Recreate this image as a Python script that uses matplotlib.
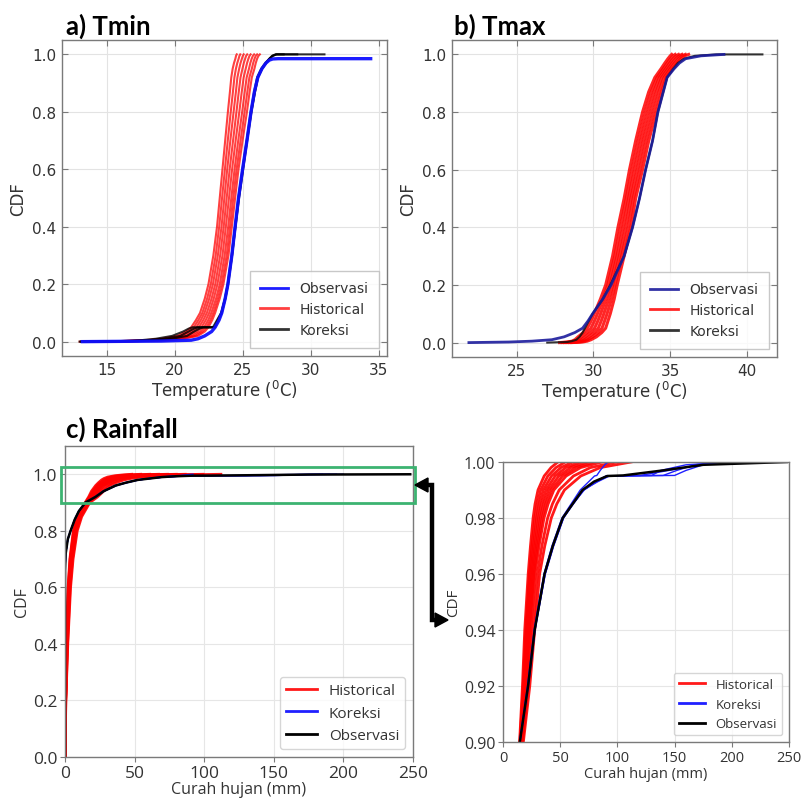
import numpy as np
import matplotlib
matplotlib.use("Agg")
import matplotlib.pyplot as plt
import matplotlib.ticker as mticker
from matplotlib.patches import Rectangle, Polygon
from matplotlib.lines import Line2D

# ---------------- data: a) Tmin ----------------
lv_a = [0, .002, .005, .01, .02, .035, .05, .075, .1, .15, .2, .3, .4, .5, .6, .7, .8, .87,
        .92, .95, .97, .985, .995, 1.0]
hist_a = [
    [13.0, 16.0, 17.8, 19.0, 20.2, 20.8, 21.2, 21.55, 21.85, 22.2, 22.47, 22.83, 23.1, 23.3, 23.5, 23.7, 23.9, 24.05, 24.15, 24.25, 24.35, 24.45, 24.5, 24.55],
    [13.09, 16.23, 18.07, 19.24, 20.43, 21.01, 21.39, 21.73, 22.02, 22.37, 22.64, 23.0, 23.26, 23.47, 23.68, 23.89, 24.11, 24.27, 24.38, 24.49, 24.59, 24.69, 24.75, 24.81],
    [13.18, 16.45, 18.34, 19.48, 20.65, 21.22, 21.58, 21.91, 22.18, 22.53, 22.8, 23.16, 23.43, 23.64, 23.85, 24.08, 24.32, 24.49, 24.6, 24.73, 24.83, 24.93, 25.0, 25.06],
    [13.27, 16.68, 18.61, 19.72, 20.88, 21.43, 21.77, 22.09, 22.35, 22.7, 22.97, 23.33, 23.59, 23.81, 24.03, 24.28, 24.53, 24.7, 24.83, 24.97, 25.07, 25.17, 25.24, 25.32],
    [13.36, 16.9, 18.88, 19.96, 21.1, 21.64, 21.96, 22.27, 22.52, 22.86, 23.13, 23.5, 23.75, 23.98, 24.21, 24.47, 24.74, 24.92, 25.06, 25.21, 25.31, 25.41, 25.49, 25.57],
    [13.45, 17.13, 19.15, 20.2, 21.33, 21.85, 22.15, 22.45, 22.68, 23.03, 23.3, 23.66, 23.92, 24.15, 24.39, 24.66, 24.95, 25.14, 25.28, 25.45, 25.55, 25.65, 25.74, 25.83],
    [13.53, 17.32, 19.38, 20.41, 21.52, 22.03, 22.32, 22.61, 22.83, 23.17, 23.44, 23.81, 24.06, 24.29, 24.54, 24.83, 25.13, 25.33, 25.48, 25.66, 25.76, 25.86, 25.95, 26.05],
    [13.6, 17.5, 19.6, 20.6, 21.7, 22.2, 22.47, 22.75, 22.96, 23.3, 23.57, 23.94, 24.19, 24.43, 24.68, 24.98, 25.3, 25.5, 25.66, 25.85, 25.95, 26.05, 26.15, 26.25],
]
obs_a_y = [0, .002, .005, .01, .02, .035, .05, .075, .1, .15, .2, .3, .4, .5, .6, .7, .8, .87,
           .92, .95, .97, .98, .984, .985, .985]
obs_a_x = [13.2, 19.0, 21.2, 21.7, 22.2, 22.7, 22.96, 23.25, 23.45, 23.7, 23.9, 24.19, 24.43, 24.68,
           24.98, 25.3, 25.6, 25.85, 26.1, 26.4, 26.7, 26.95, 27.2, 27.6, 34.4]
kor_a_y = [0, .002, .005, .01, .02, .035, .045, .05, .05, .075, .1, .15, .2, .3, .4, .5, .6, .7,
           .8, .87, .92, .95, .97, .985, .995, 1.0, 1.0]
kor_a = [
    [13.0, 16.0, 17.5, 18.6, 19.8, 20.6, 21.0, 21.3, 22.8, 23.1, 23.4, 23.68, 23.88, 24.17, 24.42, 24.67, 24.97, 25.28, 25.58, 25.83, 26.05, 26.35, 26.65, 26.95, 27.2, 27.5, 31.0],
    [13.3, 16.8, 18.2, 19.3, 20.4, 21.0, 21.4, 21.7, 22.9, 23.15, 23.42, 23.7, 23.9, 24.2, 24.45, 24.7, 25.0, 25.3, 25.62, 25.88, 26.1, 26.4, 26.7, 26.95, 27.15, 27.4, 28.0],
    [13.1, 17.3, 18.8, 19.8, 20.9, 21.4, 21.8, 22.1, 22.95, 23.2, 23.45, 23.72, 23.92, 24.21, 24.46, 24.72, 25.02, 25.32, 25.63, 25.9, 26.12, 26.42, 26.72, 26.98, 27.2, 27.45, 29.0],
]

# ---------------- data: b) Tmax ----------------
lv_b = [0, .002, .005, .01, .02, .035, .05, .075, .1, .15, .2, .3, .4, .5, .6, .7, .8, .87,
        .92, .95, .97, .985, .995, 1.0]
hist_b = [
    [27.8, 28.3, 28.6, 28.8, 29.0, 29.35, 29.6, 29.85, 30.05, 30.45, 30.8, 31.25, 31.6, 32.0, 32.35, 32.75, 33.2, 33.6, 34.0, 34.4, 34.65, 34.85, 35.0, 35.1],
    [27.96, 28.5, 28.8, 29.01, 29.24, 29.59, 29.84, 30.07, 30.26, 30.63, 30.95, 31.4, 31.77, 32.15, 32.52, 32.92, 33.38, 33.77, 34.15, 34.55, 34.81, 35.02, 35.19, 35.32],
    [28.12, 28.7, 29.0, 29.22, 29.48, 29.83, 30.08, 30.29, 30.47, 30.81, 31.1, 31.55, 31.94, 32.3, 32.69, 33.09, 33.56, 33.94, 34.3, 34.7, 34.97, 35.19, 35.38, 35.54],
    [28.28, 28.9, 29.2, 29.43, 29.72, 30.07, 30.32, 30.51, 30.68, 30.99, 31.25, 31.7, 32.11, 32.45, 32.86, 33.26, 33.74, 34.11, 34.45, 34.85, 35.13, 35.36, 35.57, 35.76],
    [28.44, 29.1, 29.4, 29.64, 29.96, 30.31, 30.56, 30.73, 30.89, 31.17, 31.4, 31.85, 32.28, 32.6, 33.03, 33.43, 33.92, 34.28, 34.6, 35.0, 35.29, 35.53, 35.76, 35.98],
    [28.6, 29.3, 29.6, 29.85, 30.2, 30.55, 30.8, 30.95, 31.1, 31.35, 31.55, 32.0, 32.45, 32.75, 33.2, 33.6, 34.1, 34.45, 34.75, 35.15, 35.45, 35.7, 35.95, 36.2],
]
obs_b = [21.9, 24.5, 26.0, 27.3, 28.1, 28.8, 29.3, 29.65, 29.95, 30.6, 31.15, 32.0, 32.55, 33.0,
         33.4, 33.85, 34.2, 34.55, 34.8, 35.25, 35.6, 36.0, 37.0, 38.5]
kor_b_y = [0, .002, .005, .01, .02, .035, .05, .075, .1, .15, .2, .3, .4, .5, .6, .7, .8, .87,
           .92, .95, .97, .985, .995, 1.0, 1.0]
kor_b_x = [27.0, 28.3, 28.6, 28.9, 29.1, 29.3, 29.45, 29.7, 29.95, 30.6, 31.1, 32.0, 32.55, 33.0,
           33.4, 33.85, 34.2, 34.55, 34.8, 35.2, 35.5, 35.9, 36.6, 38.0, 41.0]

# ---------------- data: c) Rainfall ----------------
lv_c = [0, 0.2, 0.4, 0.6, 0.7, 0.8, 0.85, 0.9, 0.92, 0.94, 0.96, 0.97, 0.98, 0.985, 0.99,
        0.995, 0.998, 1.0]
hist_c = [
    [0, 0.3, 1.0, 2.2, 3.5, 6.0, 9.0, 14.5, 17.0, 19.0, 22.0, 24.0, 26.3, 28.0, 30.6, 36.0, 42.0, 48.0],
    [0, 0.33, 1.1, 2.38, 3.73, 6.28, 9.3, 14.83, 17.64, 19.87, 23.0, 25.25, 27.89, 29.9, 32.91, 39.2, 46.3, 54.4],
    [0, 0.36, 1.2, 2.56, 3.96, 6.56, 9.6, 15.16, 18.28, 20.74, 24.0, 26.5, 29.48, 31.8, 35.22, 42.4, 50.6, 60.8],
    [0, 0.39, 1.3, 2.74, 4.19, 6.84, 9.9, 15.49, 18.92, 21.61, 25.0, 27.75, 31.07, 33.7, 37.53, 45.6, 54.9, 67.2],
    [0, 0.42, 1.4, 2.92, 4.42, 7.12, 10.2, 15.82, 19.56, 22.48, 26.0, 29.0, 32.66, 35.6, 39.84, 48.8, 59.2, 73.6],
    [0, 0.45, 1.5, 3.1, 4.65, 7.4, 10.5, 16.15, 20.2, 23.35, 27.0, 30.25, 34.25, 37.5, 42.15, 52.0, 63.5, 80.0],
    [0, 0.48, 1.6, 3.28, 4.88, 7.68, 10.8, 16.48, 20.84, 24.22, 28.0, 31.5, 35.84, 39.4, 44.46, 55.2, 67.8, 86.4],
    [0, 0.54, 1.8, 3.64, 5.34, 8.24, 11.4, 17.14, 22.12, 25.96, 30.0, 34.0, 39.02, 43.2, 49.08, 61.6, 76.4, 99.2],
    [0, 0.6, 2.0, 4.0, 5.8, 8.8, 12.0, 17.8, 23.4, 27.7, 32.0, 36.5, 42.2, 47.0, 53.7, 68.0, 85.0, 112.0],
]
lv_k = [0, 0.66, 0.72, 0.77, 0.80, 0.84, 0.87, 0.90, 0.92, 0.94, 0.96, 0.97, 0.98,
        0.985, 0.99, 0.993, 0.995, 0.9952, 0.997, 0.999, 1.0]
kor_c = [
    [0, 0, 0.5, 2.0, 4.0, 7.0, 10.0, 14.6, 21.5, 27.2, 35.8, 42.8, 51.5, 59.5, 67.5, 75.0, 80.0, 82.0, 85.0, 89.0, 92.0],
    [0, 0, 0.5, 2.0, 4.0, 7.0, 10.0, 14.7, 22.2, 28.0, 36.8, 44.0, 52.8, 61.5, 70.5, 81.0, 90.0, 140.0, 152.0, 168.0, 185.0],
    [0, 0, 0.5, 2.0, 4.0, 7.0, 10.0, 14.8, 22.0, 27.9, 37.0, 44.3, 53.0, 61.0, 71.0, 82.0, 92.0, 120.0, 145.0, 172.0, 195.0],
    [0, 0, 0.5, 2.0, 4.0, 7.0, 10.0, 14.6, 21.6, 27.5, 36.0, 43.2, 52.0, 60.5, 70.0, 80.5, 90.5, 130.0, 138.0, 160.0, 200.0],
    [0, 0, 0.5, 2.0, 4.0, 7.0, 10.0, 14.7, 21.8, 27.8, 36.5, 43.8, 52.5, 61.0, 70.0, 83.0, 93.0, 150.0, 160.0, 175.0, 190.0],
]
obs_c = [0, 0, 0.5, 2.0, 4.0, 7.0, 10.0, 14.7, 21.9, 27.7, 36.3, 43.5, 52.2, 60.8, 69.5, 79.6,
         91.1, 105.0, 140.0, 175.0, 248.0]

# ---------------- figure ----------------
W, H = 803, 804
fig = plt.figure(figsize=(W / 100, H / 100), dpi=100)
fig.patch.set_facecolor("white")


def rect(l, t, r, b):
    return [l / W, (H - b) / H, (r - l) / W, (b - t) / H]


def fx(px):
    return px / W


def fy(py):
    return 1 - py / H


RED = "#ff0000"
TXT = "#333333"
SP = "#7a7a7a"


def style_classic(ax):
    ax.tick_params(direction="in", top=True, right=True, length=4, labelsize=11,
                   colors=TXT, pad=4)
    ax.tick_params(axis="both", color=SP)
    for s in ax.spines.values():
        s.set_color(SP)
        s.set_linewidth(1.0)
    ax.grid(True, color="#e3e3e3", lw=0.8)
    ax.set_axisbelow(True)


def ordered_legend(ax, names, **kw):
    h, l = ax.get_legend_handles_labels()
    idx = [l.index(n) for n in names]
    return ax.legend([h[i] for i in idx], [l[i] for i in idx], **kw)


# a) Tmin
axa = fig.add_axes(rect(62, 41, 387, 357))
style_classic(axa)
for i, xs in enumerate(hist_a):
    axa.plot(xs, lv_a, color=RED, lw=1.5, alpha=0.75, label="Historical" if i == 0 else None)
for i, xs in enumerate(kor_a):
    axa.plot(xs, kor_a_y, color="black", lw=1.5, alpha=0.8, label="Koreksi" if i == 0 else None)
axa.plot(obs_a_x, obs_a_y, color="#1010ff", lw=2.4, alpha=0.95, label="Observasi")
axa.set_xlim(11.7, 35.6)
axa.set_ylim(-0.05, 1.05)
axa.set_xticks([15, 20, 25, 30, 35])
axa.set_yticks([0, 0.2, 0.4, 0.6, 0.8, 1.0])
axa.set_xlabel("Temperature ($^0$C)", fontsize=12, color=TXT, labelpad=1)
axa.set_ylabel("CDF", fontsize=12, color=TXT, labelpad=4)
lg = ordered_legend(axa, ["Observasi", "Historical", "Koreksi"], loc="lower right",
                    fontsize=10, fancybox=False, edgecolor="#bbbbbb", borderaxespad=0.6,
                    borderpad=0.75, labelcolor=TXT)
for ln in lg.get_lines():
    ln.set_linewidth(2.0)

# b) Tmax
axb = fig.add_axes(rect(452, 41, 777, 358))
style_classic(axb)
for i, xs in enumerate(hist_b):
    axb.plot(xs, lv_b, color=RED, lw=2.2, alpha=0.85, label="Historical" if i == 0 else None)
axb.plot(kor_b_x, kor_b_y, color="#111111", lw=1.5, alpha=0.85, label="Koreksi")
axb.plot(obs_b, lv_b, color="#1c1c9c", lw=2.0, alpha=0.9, label="Observasi")
axb.set_xlim(20.8, 41.95)
axb.set_ylim(-0.05, 1.05)
axb.set_xticks([25, 30, 35, 40])
axb.set_yticks([0, 0.2, 0.4, 0.6, 0.8, 1.0])
axb.set_xlabel("Temperature ($^0$C)", fontsize=12, color=TXT, labelpad=1)
axb.set_ylabel("CDF", fontsize=12, color=TXT, labelpad=4)
lg = ordered_legend(axb, ["Observasi", "Historical", "Koreksi"], loc="lower right",
                    fontsize=10, fancybox=False, edgecolor="#bbbbbb", borderaxespad=0.6,
                    borderpad=0.75, labelcolor=TXT)
for ln in lg.get_lines():
    ln.set_linewidth(2.0)


FONT2 = ["Open Sans", "DejaVu Sans"]


def style_modern(ax, ls):
    ax.tick_params(direction="out", length=3.5, labelsize=ls, colors=TXT, color=SP, pad=2)
    for s in ax.spines.values():
        s.set_color(SP)
        s.set_linewidth(1.0)
    ax.grid(True, color="#e6e6e6", lw=0.8)
    ax.set_axisbelow(True)


def draw_rain(ax):
    for i, xs in enumerate(hist_c):
        ax.plot(xs, lv_c, color=RED, lw=2.0, alpha=0.9, label="Historical" if i == 0 else None)
    for i, xs in enumerate(kor_c):
        ax.plot(xs, lv_k, color="#2020ff", lw=1.0, label="Koreksi" if i == 0 else None)
    ax.plot(obs_c, lv_k, color="black", lw=1.8, label="Observasi")


# c) Rainfall
axc = fig.add_axes(rect(65, 447, 413, 758))
style_modern(axc, 12.5)
draw_rain(axc)
axc.set_xlim(0, 250)
axc.set_ylim(0, 1.1)
axc.set_xticks([0, 50, 100, 150, 200, 250])
axc.set_yticks([0, 0.2, 0.4, 0.6, 0.8, 1.0])
for t in axc.get_xticklabels() + axc.get_yticklabels():
    t.set_fontfamily(FONT2)
axc.set_xlabel("Curah hujan (mm)", fontsize=11.5, color=TXT, family=FONT2, labelpad=0)
axc.set_ylabel("CDF", fontsize=11.5, color=TXT, family=FONT2, labelpad=2)
lg = axc.legend(loc="lower right", prop={"family": FONT2, "size": 11}, borderaxespad=0.5,
                labelcolor=TXT, edgecolor="#cccccc")
for ln in lg.get_lines():
    ln.set_linewidth(2.0)
axc.add_patch(Rectangle((-2.9, 0.90), 254.3, 0.125, fill=False, edgecolor="#3cb371",
                        lw=2.0, clip_on=False, transform=axc.transData, zorder=5))

# d) zoom of the rainfall CDF tail
axd = fig.add_axes(rect(503, 463, 789, 743))
style_modern(axd, 11.5)
draw_rain(axd)
axd.set_xlim(0, 250)
axd.set_ylim(0.90, 1.00)
axd.set_xticks([0, 50, 100, 150, 200, 250])
axd.set_yticks([0.90, 0.92, 0.94, 0.96, 0.98, 1.00])
axd.yaxis.set_major_formatter(mticker.FormatStrFormatter("%.2f"))
axd.tick_params(axis="x", labelsize=10.5)
for t in axd.get_xticklabels() + axd.get_yticklabels():
    t.set_fontfamily(FONT2)
axd.set_xlabel("Curah hujan (mm)", fontsize=10.5, color=TXT, family=FONT2, labelpad=1)
axd.set_ylabel("CDF", fontsize=11, color=TXT, family=FONT2, labelpad=2)
lg = axd.legend(loc="lower right", prop={"family": FONT2, "size": 9.5}, borderaxespad=0.5,
                labelcolor=TXT, edgecolor="#cccccc")
for ln in lg.get_lines():
    ln.set_linewidth(2.0)

# arrow linking the two rainfall panels
fig.add_artist(Line2D([fx(426), fx(432), fx(432), fx(438)],
                      [fy(486), fy(486), fy(621), fy(621)],
                      color="black", lw=3.2, solid_joinstyle="miter",
                      transform=fig.transFigure))
fig.add_artist(Polygon([[fx(415), fy(486)], [fx(428), fy(479)], [fx(428), fy(493)]],
                       closed=True, color="black", transform=fig.transFigure))
fig.add_artist(Polygon([[fx(448), fy(621)], [fx(435), fy(614)], [fx(435), fy(628)]],
                       closed=True, color="black", transform=fig.transFigure))

# panel titles
TF = ["Lato", "DejaVu Sans"]
fig.text(fx(66), fy(35), "a) Tmin", fontsize=18.5, fontweight="bold", family=TF)
fig.text(fx(454), fy(35), "b) Tmax", fontsize=18.5, fontweight="bold", family=TF)
fig.text(fx(66), fy(438), "c) Rainfall", fontsize=18.5, fontweight="bold", family=TF)

fig.savefig("out.png", dpi=100, facecolor="white")
